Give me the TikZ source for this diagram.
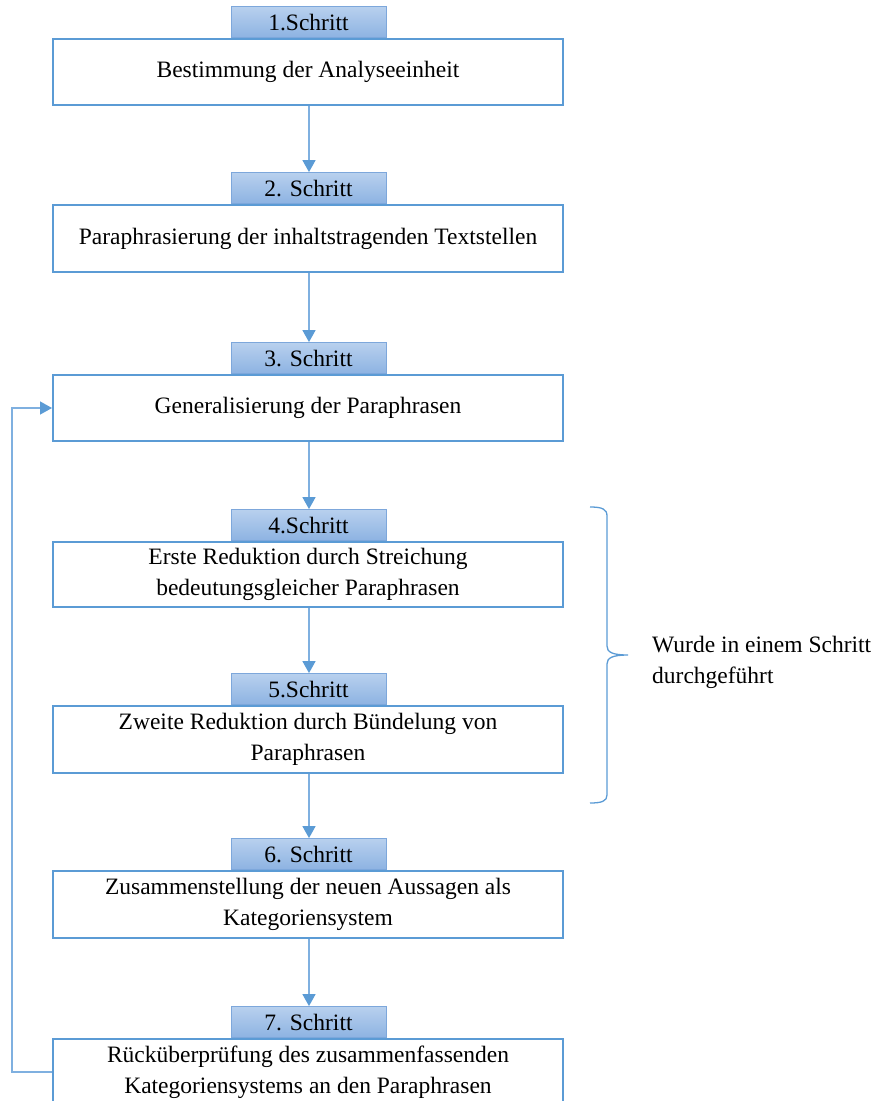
\documentclass[tikz,border=0pt]{standalone}
\usepackage{fontspec}
\setmainfont{Liberation Serif}
\usetikzlibrary{arrows.meta}
\definecolor{boxblue}{HTML}{5B9BD5}
\definecolor{linkblue}{HTML}{7FB0E0}
\definecolor{tabtop}{HTML}{B8D0EE}
\definecolor{tabbot}{HTML}{8DB3E2}
\definecolor{tabedge}{HTML}{7DA7DB}
\begin{document}
\begin{tikzpicture}[x=1pt,y=-1pt,
  txt/.style={font=\fontsize{23.5}{31}\selectfont},
  stepbox/.style={txt, draw=boxblue, line width=2pt, fill=white,
    minimum width=510pt, inner sep=0pt, align=center, anchor=north},
  tab/.style={txt, draw=tabedge, line width=0.9pt, top color=tabtop,
    bottom color=tabbot, minimum width=155pt, minimum height=31pt,
    inner sep=0pt, anchor=south},
  link/.style={draw=linkblue, line width=1.4pt,
    -{Triangle[length=12pt,width=13pt,color=boxblue]}}
]
\path[use as bounding box, clip] (0,0) rectangle (888,1101);

% step tabs (drawn first, so the box frames overlap their lower edge)
\node[tab] (t1) at (308.5,38)   {1.Schritt};
\node[tab] (t2) at (308.5,204)  {2. Schritt};
\node[tab] (t3) at (308.5,374)  {3. Schritt};
\node[tab] (t4) at (308.5,541)  {4.Schritt};
\node[tab] (t5) at (308.5,705)  {5.Schritt};
\node[tab] (t6) at (308.5,870)  {6. Schritt};
\node[tab] (t7) at (308.5,1038) {7. Schritt};

% step boxes
\node[stepbox, minimum height=66pt] (b1) at (308,38)
  {Bestimmung der Analyseeinheit};
\node[stepbox, minimum height=67pt] (b2) at (308,204)
  {Paraphrasierung der inhaltstragenden Textstellen};
\node[stepbox, minimum height=66pt] (b3) at (308,374)
  {Generalisierung der Paraphrasen};
\node[stepbox, minimum height=65pt] (b4) at (308,541)
  {Erste Reduktion durch Streichung\\bedeutungsgleicher Paraphrasen};
\node[stepbox, minimum height=67pt] (b5) at (308,705)
  {Zweite Reduktion durch Bündelung von\\Paraphrasen};
\node[stepbox, minimum height=67pt] (b6) at (308,870)
  {Zusammenstellung der neuen Aussagen als\\Kategoriensystem};
\node[stepbox, minimum height=66pt] (b7) at (308,1038)
  {Rücküberprüfung des zusammenfassenden\\Kategoriensystems an den Paraphrasen};

% flow between the steps
\draw[link] (b1.south -| 309,0) -- (t2.north -| 309,0);
\draw[link] (b2.south -| 309,0) -- (t3.north -| 309,0);
\draw[link] (b3.south -| 309,0) -- (t4.north -| 309,0);
\draw[link] (b4.south -| 309,0) -- (t5.north -| 309,0);
\draw[link] (b5.south -| 309,0) -- (t6.north -| 309,0);
\draw[link] (b6.south -| 309,0) -- (t7.north -| 309,0);

% feedback loop from step 7 back to step 3
\draw[link] (b7.west) -- ++(-40,0) |- (b3.west);

% brace grouping steps 4 and 5
\draw[boxblue, line width=1.3pt]
  (590,507) .. controls (602,507) and (607,509) .. (607,516)
  -- (607,646) .. controls (607,652) and (612,655) .. (628,655)
  .. controls (612,655) and (607,658) .. (607,664)
  -- (607,795) .. controls (607,801) and (602,803) .. (590,803);
\node[txt, anchor=west, align=left, inner sep=0pt] (note) at (652,662)
  {Wurde in einem Schritt\\durchgeführt};
\end{tikzpicture}
\end{document}
